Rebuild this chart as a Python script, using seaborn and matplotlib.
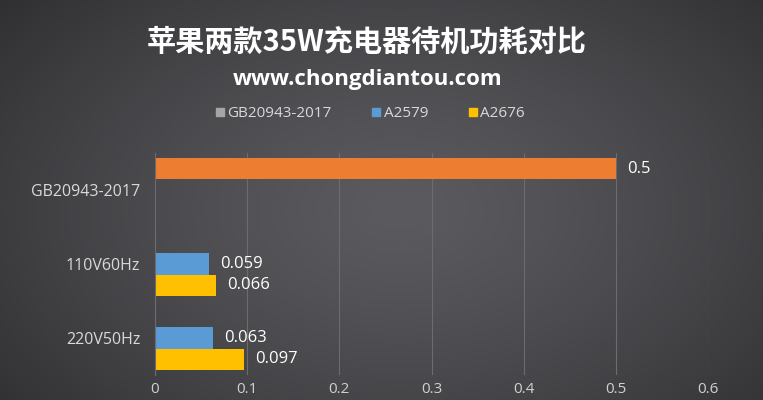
import numpy as np
import pandas as pd
import matplotlib
matplotlib.use("Agg")
import matplotlib.pyplot as plt
from matplotlib.lines import Line2D
import seaborn as sns

# data
categories = ["GB20943-2017", "110V60Hz", "220V50Hz"]
series = ["GB20943-2017", "A2579", "A2676"]
gb_values = [0.5]
a2579_values = [0.059, 0.063]
a2676_values = [0.066, 0.097]
x_ticks = [0, 0.1, 0.2, 0.3, 0.4, 0.5, 0.6]

bar_colors = {"GB20943-2017": "#ED7D31", "A2579": "#5B9BD5", "A2676": "#FFC000"}
legend_colors = {"GB20943-2017": "#A5A5A5", "A2579": "#5B9BD5", "A2676": "#FFC000"}

rows = [("GB20943-2017", "GB20943-2017", gb_values[0])]
for cat, v in zip(categories[1:], a2579_values):
    rows.append((cat, "A2579", v))
for cat, v in zip(categories[1:], a2676_values):
    rows.append((cat, "A2676", v))
df = pd.DataFrame(rows, columns=["category", "series", "value"])

sns.set_theme(style="dark")
plt.rcParams["font.family"] = ["Noto Sans CJK SC", "DejaVu Sans"]
latin = ["Open Sans", "DejaVu Sans"]

fig = plt.figure(figsize=(7.63, 4.0), dpi=100)

# radial dark-gray background
bg = fig.add_axes([0, 0, 1, 1], zorder=-10)
yy, xx = np.mgrid[0:400, 0:763]
r = np.sqrt(((xx - 400) / 520.0) ** 2 + ((yy - 210) / 330.0) ** 2)
r = np.clip(r, 0, 1)
c0 = np.array([0x5b, 0x5b, 0x5f]) / 255.0
c1 = np.array([0x30, 0x30, 0x33]) / 255.0
img = c0[None, None, :] * (1 - r[..., None] ** 1.3) + c1[None, None, :] * (r[..., None] ** 1.3)
bg.imshow(img, aspect="auto", extent=[0, 1, 0, 1])
bg.set_axis_off()

ax = fig.add_axes([155 / 763, 1 - 375 / 400, (708 - 155) / 763, (375 - 153) / 400])
ax.patch.set_alpha(0)

sns.barplot(data=df, y="category", x="value", hue="series", order=categories,
            hue_order=series, palette=bar_colors, orient="h", width=0.86,
            dodge=True, legend=False, ax=ax, saturation=1, linewidth=0)

for patch in ax.patches:
    w = patch.get_width()
    if np.isnan(w) or w == 0:
        continue
    yc = patch.get_y() + patch.get_height() / 2
    ax.annotate(f"{w:g}", (w, yc), xytext=(8, 0), textcoords="offset points",
                va="center", ha="left", color="white", fontsize=12, family=latin)

ax.set_xlim(0, 0.6)
ax.set_ylim(2.5, -0.5)
ax.set_xticks(x_ticks)
ax.set_xticklabels([f"{t:g}" for t in x_ticks])
ax.tick_params(axis="x", colors="#d0d0d0", labelsize=11, pad=5, length=0)
ax.tick_params(axis="y", colors="#d9d9d9", labelsize=11.5, pad=10.5, length=0)
for lab in ax.get_xticklabels() + ax.get_yticklabels():
    lab.set_family(latin)
ax.set_xlabel("")
ax.set_ylabel("")
ax.grid(axis="x", color="#6c6c70", linewidth=0.8)
ax.grid(axis="y", visible=False)
ax.set_axisbelow(True)
for side in ["top", "right", "bottom"]:
    ax.spines[side].set_visible(False)
ax.spines["left"].set_color("#6c6c70")
ax.spines["left"].set_linewidth(0.8)

fig.text(0.481, 1 - 42 / 400, "苹果两款35W充电器待机功耗对比", ha="center", va="center",
         color="white", fontsize=21, fontweight="bold")
fig.text(0.482, 1 - 80 / 400, "www.chongdiantou.com", ha="center", va="center",
         color="white", fontsize=16, fontweight="bold", family=latin)

handles = [Line2D([], [], marker="s", linestyle="", markersize=6,
                  markerfacecolor=legend_colors[s], markeredgecolor=legend_colors[s])
           for s in series]
leg = fig.legend(handles, series, loc="center", bbox_to_anchor=(0.485, 1 - 114 / 400),
                 ncol=3, frameon=False, handlelength=0.6,
                 handletextpad=0.2, columnspacing=2.6,
                 prop={"family": latin, "size": 11})
for t in leg.get_texts():
    t.set_color("#d9d9d9")

fig.savefig("out.png", dpi=100)
